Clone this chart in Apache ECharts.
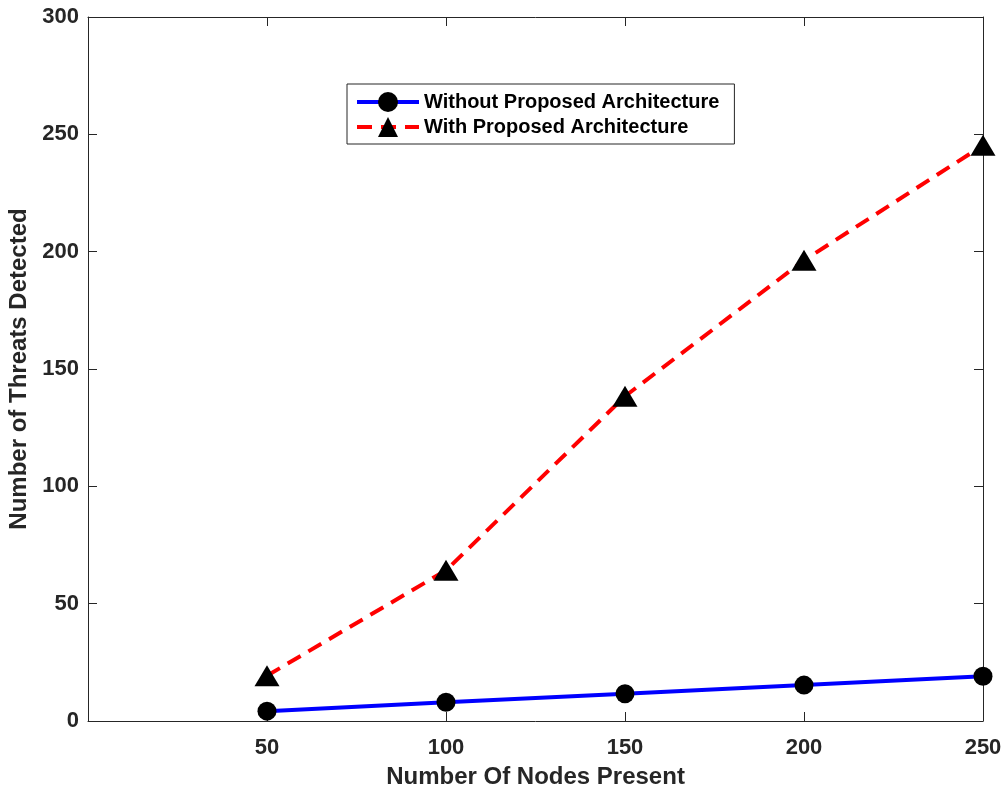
<!DOCTYPE html>
<html>
<head>
<meta charset="utf-8">
<script src="https://cdn.jsdelivr.net/npm/echarts@6/dist/echarts.min.js"></script>
<style>
  html, body { margin: 0; padding: 0; background: #fff; }
  #chart { width: 1005px; height: 790px; }
</style>
</head>
<body>
<div id="chart"></div>
<script>
// Node counts on the x axis
const nodes = [50, 100, 150, 200, 250];
// Threats detected by each configuration
const withoutArch = [4.2, 8.0, 11.6, 15.3, 19.1];
const withArch = [19.3, 64.2, 138.4, 196.3, 245.3];
// Axis tick settings
const xTicks = { min: 0, max: 250, interval: 50 };
const yTicks = { min: 0, max: 300, interval: 50 };

const font = 'Liberation Sans, Arial, Helvetica, sans-serif';
const axisColor = '#262626';

const chart = echarts.init(document.getElementById('chart'), null, { renderer: 'canvas' });

function axisLine() {
  return { show: true, onZero: false, lineStyle: { color: axisColor, width: 1 } };
}
function tickIn() {
  return { show: true, inside: true, length: 9, lineStyle: { color: axisColor, width: 1 } };
}

chart.setOption({
  animation: false,
  backgroundColor: '#ffffff',
  grid: {
    left: 88, right: 22, top: 17, bottom: 69,
    containLabel: false,
    outerBoundsMode: 'none'
  },
  legend: {
    left: 347,
    top: 84,
    orient: 'vertical',
    itemWidth: 62,
    itemHeight: 25,
    itemGap: 5,
    padding: [8, 15, 7, 8],
    borderColor: '#262626',
    borderWidth: 1,
    backgroundColor: '#ffffff',
    lineStyle: { width: 4 },
    textStyle: { fontFamily: font, fontWeight: 'bold', fontSize: 20, color: '#000' },
    data: ['Without Proposed Architecture', 'With Proposed Architecture']
  },
  xAxis: [
    {
      type: 'value',
      min: xTicks.min, max: xTicks.max, interval: xTicks.interval,
      name: 'Number Of Nodes Present',
      nameLocation: 'middle',
      nameGap: 44,
      nameTextStyle: { fontFamily: font, fontWeight: 'bold', fontSize: 24, color: axisColor },
      axisLine: axisLine(),
      axisTick: tickIn(),
      splitLine: { show: false },
      axisLabel: {
        margin: 16,
        fontFamily: font, fontWeight: 'bold', fontSize: 22, color: axisColor,
        formatter: v => (v === 0 ? '' : String(v))
      }
    },
    {
      type: 'value', position: 'top',
      min: xTicks.min, max: xTicks.max, interval: xTicks.interval,
      axisLine: axisLine(),
      axisTick: tickIn(),
      axisLabel: { show: false },
      splitLine: { show: false }
    }
  ],
  yAxis: [
    {
      type: 'value',
      min: yTicks.min, max: yTicks.max, interval: yTicks.interval,
      name: 'Number of Threats Detected',
      nameLocation: 'middle',
      nameGap: 53,
      nameTextStyle: { fontFamily: font, fontWeight: 'bold', fontSize: 24, color: axisColor },
      axisLine: axisLine(),
      axisTick: tickIn(),
      splitLine: { show: false },
      axisLabel: { margin: 9, fontFamily: font, fontWeight: 'bold', fontSize: 22, color: axisColor }
    },
    {
      type: 'value', position: 'right',
      min: yTicks.min, max: yTicks.max, interval: yTicks.interval,
      axisLine: axisLine(),
      axisTick: tickIn(),
      axisLabel: { show: false },
      splitLine: { show: false }
    }
  ],
  series: [
    {
      name: 'Without Proposed Architecture',
      type: 'line',
      data: nodes.map((n, i) => [n, withoutArch[i]]),
      symbol: 'circle',
      symbolSize: 19,
      showAllSymbol: true,
      lineStyle: { color: '#0000ff', width: 4 },
      itemStyle: { color: '#000000' },
      z: 3
    },
    {
      name: 'With Proposed Architecture',
      type: 'line',
      data: nodes.map((n, i) => [n, withArch[i]]),
      symbol: 'triangle',
      symbolSize: [25, 21],
      showAllSymbol: true,
      lineStyle: { color: '#ff0000', width: 4, type: [15, 9] },
      itemStyle: { color: '#000000' },
      z: 2
    }
  ]
});
</script>
</body>
</html>
